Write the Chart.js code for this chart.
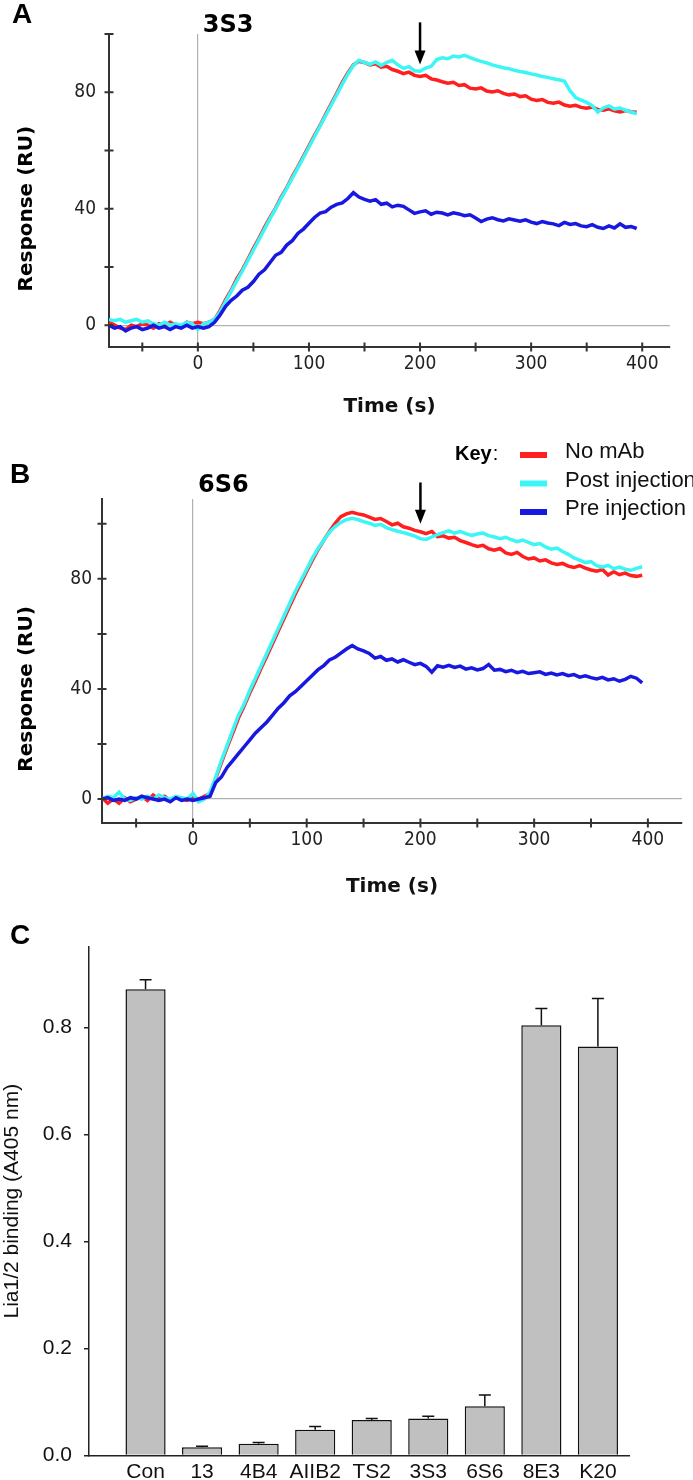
<!DOCTYPE html>
<html>
<head>
<meta charset="utf-8">
<script src="https://cdn.jsdelivr.net/npm/chart.js@4.4.0/dist/chart.umd.min.js"></script>
<style>
  body { margin: 0; background: #fff; }
  #page { position: relative; width: 693px; height: 1480px; }
  canvas { position: absolute; left: 0; }
</style>
</head>
<body>
<div id="page">
  <canvas id="chartA" width="693" height="430" style="top:0"></canvas>
  <canvas id="chartB" width="693" height="480" style="top:430px"></canvas>
  <canvas id="chartC" width="693" height="570" style="top:910px"></canvas>
</div>
<script>
// sensorgram time points (s), shared by panels A and B
const times = [-80, -75, -70, -65, -60, -55, -50, -45, -40, -35, -30, -25, -20, -15, -10, -5, 0, 5, 10, 15,
  20, 25, 30, 35, 40, 45, 50, 55, 60, 65, 70, 75, 80, 85, 90, 95, 100, 105, 110, 115, 120, 125, 130, 135, 140, 145,
  150, 155, 160, 165, 170, 175, 180, 185, 190, 195, 200, 205, 210, 215, 220, 225, 230, 235, 240, 245,
  250, 255, 260, 265, 270, 275, 280, 285, 290, 295, 300, 305, 310, 315, 320, 325, 330, 335, 340, 345,
  350, 355, 360, 365, 370, 375, 380, 385, 390, 395];

// panel A - 3S3
const noMabA = [1, 0, -1, -1.5, 0, -0.5, 0.5, 0, -1, 0.5, 0, 1, 0, -0.5, 1, 0.5, 1, 0.5, 1, 2,
  5, 8.8, 12, 15.9, 19, 22.6, 26.4, 29.8, 33.6, 37, 40.2, 44, 47.2, 51, 54.4, 58, 61.6, 65.2, 68.6, 72.4, 76, 79.6, 83.4, 86.6, 89.4, 90.6,
  90.2, 89.4, 89.8, 88.6, 88.9, 87.8, 87.2, 86.4, 86.9, 85.8, 85.4, 85.8, 84.6, 84.2, 83.6, 83.1, 83.4, 82.3, 82.6, 81.4,
  81.1, 81.5, 80.4, 80.1, 80.5, 79.6, 79.1, 79.4, 78.5, 78.8, 77.6, 77.2, 77.5, 76.5, 76.2, 76.6, 75.6, 75.2, 75.5, 74.8,
  74.5, 74.9, 74.1, 73.8, 74.3, 73.6, 73.2, 73.7, 73.3, 73.1];
const postInjA = [2, 1.5, 2, 1, 1.5, 2, 1, 1.5, 0.5, 0, 1, 0, 0.5, 0, 1, 0.5, -1.5, 0.5, 1, 2,
  4.5, 8.2, 11.6, 15.2, 18.6, 22.2, 25.8, 29.4, 33, 36.6, 40, 43.6, 47, 50.6, 54, 57.6, 61.2, 64.8, 68.4, 72, 75.6, 79.2, 82.8, 86.2, 89.2, 91,
  90.2, 89.6, 90.4, 89.2, 90.3, 90.9, 89.4, 88.2, 88.8, 87.4, 87.2, 88.3, 88.9, 91.2, 91.8, 91.5, 92.4, 92.1, 92.7, 91.9,
  91.2, 90.6, 90.1, 89.4, 88.9, 88.4, 88.1, 87.5, 87.1, 86.8, 86.3, 85.9, 85.4, 85.1, 84.6, 84.3, 83.8, 80.5, 78.2, 77.3,
  76.5, 75.4, 73.2, 74.6, 75.3, 74.2, 74.6, 73.8, 73.2, 72.6];
const preInjA = [0, -1, -0.5, -2, -1, -0.5, -1.5, -1, 0, -1, -0.5, -1.5, -0.5, -1, 0, -1, -0.5, -1, -0.5, 1,
  3.5, 6.5, 8.5, 10, 12, 13, 15, 17.5, 19, 21.5, 24, 25, 27.5, 29, 31.5, 33, 35, 37, 38.5, 39, 40.5, 41.5, 42, 43.5, 45.5, 44,
  43.2, 42.6, 43.1, 41.5, 41.9, 40.6, 41.2, 40.8, 39.6, 38.4, 38.9, 39.3, 38.1, 38.8, 38.5, 37.9, 38.6, 38.2, 37.6, 37.9,
  36.8, 35.6, 36.4, 36.9, 36.2, 35.8, 36.5, 36.1, 35.7, 36.2, 35.4, 34.9, 35.6, 35.1, 34.8, 34.2, 35.3, 34.6, 34.9, 34.1,
  33.8, 34.5, 33.6, 33.2, 34.1, 33.4, 34.8, 33.6, 33.9, 33.2];

// panel B - 6S6
const noMabB = [0.5, -1.5, 0, -1.5, 0.5, -1, 0, 1, -0.5, 1.5, 0, 1, -0.5, 0.5, 0, -0.5, 0.5, 0, 1, 2,
  7.5, 13.2, 18.8, 24, 29.4, 33.8, 38.6, 43, 47.6, 52, 56.5, 61, 65.5, 70, 74.5, 78.6, 82.8, 86.8, 90.6, 94, 97.2, 100.2, 102.6, 103.6, 104.2, 103.6,
  103.2, 102.4, 101.6, 101.9, 100.8, 99.6, 100.2, 98.9, 98.4, 97.6, 97.1, 96.4, 97.2, 95.3, 95.6, 94.8, 95.1, 93.9, 93.2, 92.4,
  91.8, 92.2, 90.9, 90.4, 91.0, 89.4, 88.9, 89.6, 88.1, 87.2, 87.6, 86.5, 86.9, 85.8, 85.2, 85.6, 84.6, 84.1, 84.8, 83.9,
  83.2, 82.8, 83.4, 81.4, 82.6, 81.5, 82.1, 81.2, 80.9, 81.3];
const postInjB = [0, 1, 0.5, 2.5, 0, -0.5, 0.5, 0, 1, 0, 1.5, 0.5, 0, 1, 0.5, 0, 2, -1, 0, 2.5,
  8, 14, 19.5, 25, 30.5, 34.5, 39.5, 44, 48.5, 53, 57.5, 62, 66.5, 71, 75.5, 79.5, 83.5, 87.5, 91, 94, 97, 99, 100.5, 101.5, 102, 101.5,
  100.8, 100.2, 99.4, 99.8, 98.6, 97.9, 97.3, 96.8, 96.2, 95.5, 94.6, 94.3, 95.2, 96.1, 96.8, 97.4, 96.6, 97.2, 96.4, 95.8,
  96.3, 96.6, 95.7, 95.2, 94.6, 95.1, 94.2, 93.5, 94.1, 93.2, 92.4, 92.8, 91.6, 90.8, 91.2, 89.9, 88.9, 87.6, 86.8, 85.9,
  86.3, 84.8, 84.2, 84.9, 83.7, 84.3, 83.5, 83.1, 83.8, 84.4];
const preInjB = [0, 0.5, -0.5, 0, -0.5, 0.5, 0, 1, 0.5, 0, -0.5, 0, -1, 0.5, -0.5, 0, -0.5, 0, 0.5, 1,
  6, 8, 11.5, 14, 16.5, 19, 21.5, 24, 26, 28, 30.5, 33, 35, 37.5, 39, 41, 43, 45, 47, 48.5, 50.5, 51.5, 53, 54.5, 55.8, 54.5,
  53.8, 52.9, 51.2, 51.8, 50.4, 50.9, 49.8, 50.6, 49.7, 48.8, 49.3, 48.2, 46.1, 48.4, 47.9, 48.6, 47.8, 48.3, 47.2, 47.7,
  46.9, 47.4, 48.9, 46.8, 47.1, 46.3, 46.8, 45.9, 46.4, 45.6, 45.9, 46.2, 45.3, 45.8, 45.1, 45.6, 44.8, 45.2, 44.3, 44.8,
  44.1, 43.6, 44.2, 43.3, 43.7, 42.8, 43.5, 44.6, 43.9, 42.2];

// panel C - Lia1/2 binding ELISA
const antibodies = ['Con', '13', '4B4', 'AIIB2', 'TS2', '3S3', '6S6', '8E3', 'K20'];
const binding = [0.871, 0.015, 0.022, 0.048, 0.066, 0.069, 0.092, 0.804, 0.764];
const bindingErr = [0.018, 0.002, 0.002, 0.006, 0.003, 0.004, 0.021, 0.031, 0.09];

const seriesNames = ['No mAb', 'Post injection', 'Pre injection'];
const seriesColors = ['#ff1f1f', '#3cf5f5', '#1818e0'];
const arrowA = {t: 200, from: 104, to: 89.5};
const arrowB = {t: 200, from: 115, to: 100};

const dejavu = '"DejaVu Sans", Verdana, sans-serif';
const dejavuNarrow = '"DejaVu Sans Condensed", "DejaVu Sans", Verdana, sans-serif';
const arial = '"Liberation Sans", Arial, sans-serif';
Chart.defaults.color = '#111';

const panelLetter = {
  id: 'panelLetter',
  afterDraw(chart, args, o) {
    const ctx = chart.ctx;
    ctx.save();
    ctx.fillStyle = '#000';
    ctx.textBaseline = 'middle';
    ctx.font = 'bold 28px ' + arial;
    ctx.fillText(o.text, o.x, o.y);
    ctx.restore();
  }
};

// tick marks that cross the axis line, like the instrument software draws them
const crossTicks = {
  id: 'crossTicks',
  afterDraw(chart) {
    const {ctx, scales: {x, y}} = chart;
    ctx.save();
    ctx.strokeStyle = '#333';
    ctx.lineWidth = 2;
    ctx.beginPath();
    x.ticks.forEach(t => {
      const px = x.getPixelForValue(t.value);
      ctx.moveTo(px, x.top - 4.5);
      ctx.lineTo(px, x.top + 4.5);
    });
    y.ticks.forEach(t => {
      const py = y.getPixelForValue(t.value);
      ctx.moveTo(y.right - 4.5, py);
      ctx.lineTo(y.right + 4.5, py);
    });
    ctx.stroke();
    ctx.restore();
  }
};

const sprDecor = {
  id: 'sprDecor',
  afterDraw(chart, args, o) {
    const {ctx, scales: {x, y}} = chart;
    ctx.save();
    ctx.fillStyle = '#000';
    ctx.textBaseline = 'middle';
    ctx.font = 'bold 24px ' + dejavu;
    ctx.fillText(o.mab, x.getPixelForValue(0) + 5, o.mabY);

    ctx.save();
    ctx.translate(o.titleX, y.getPixelForValue(40));
    ctx.rotate(-Math.PI / 2);
    ctx.textAlign = 'center';
    ctx.font = 'bold 20px ' + dejavu;
    ctx.fillText('Response (RU)', 0, 0);
    ctx.restore();

    // injection arrow
    const ax = x.getPixelForValue(o.arrow.t);
    const ay0 = y.getPixelForValue(o.arrow.from);
    const ay1 = y.getPixelForValue(o.arrow.to);
    ctx.strokeStyle = '#000';
    ctx.lineWidth = 2.5;
    ctx.beginPath();
    ctx.moveTo(ax, ay0);
    ctx.lineTo(ax, ay1 - 10);
    ctx.stroke();
    ctx.beginPath();
    ctx.moveTo(ax - 5.5, ay1 - 14);
    ctx.lineTo(ax + 5.5, ay1 - 14);
    ctx.lineTo(ax, ay1);
    ctx.closePath();
    ctx.fill();
    ctx.restore();
  }
};

const keyLegend = {
  id: 'keyLegend',
  afterDraw(chart, args, o) {
    const ctx = chart.ctx;
    ctx.save();
    ctx.textBaseline = 'middle';
    ctx.fillStyle = '#000';
    ctx.font = 'bold 20px ' + arial;
    ctx.fillText('Key', o.x, o.y);
    const w = ctx.measureText('Key').width;
    ctx.font = '20px ' + arial;
    ctx.fillText(':', o.x + w + 1, o.y);
    ctx.font = '22px ' + arial;
    chart.data.datasets.forEach((ds, i) => {
      const cy = o.y + 1 + i * 28.5;
      ctx.fillStyle = ds.borderColor;
      ctx.fillRect(o.x + 65, cy - 3, 27, 6);
      ctx.fillStyle = '#111';
      ctx.fillText(ds.label, o.x + 110, cy - 3);
    });
    ctx.restore();
  }
};

function sprChart(id, series, o, extraPlugins) {
  return new Chart(document.getElementById(id), {
    type: 'line',
    data: {
      datasets: series.map((vals, i) => ({
        label: seriesNames[i],
        data: vals.map((v, k) => ({x: times[k], y: v})),
        borderColor: seriesColors[i],
        borderWidth: 3.5,
        pointRadius: 0,
        tension: 0,
        order: 2 - i
      }))
    },
    options: {
      responsive: false,
      animation: false,
      layout: {padding: {left: 0, top: o.top, right: o.right, bottom: 0}},
      plugins: {
        legend: {display: false},
        tooltip: {enabled: false},
        panelLetter: o.letter,
        sprDecor: {mab: o.mab, mabY: o.mabY, titleX: 27, arrow: o.arrow},
        keyLegend: {x: 455, y: 24}
      },
      scales: {
        x: {
          type: 'linear', min: -80, max: o.xMax,
          afterFit: s => { s.height = o.xHeight; },
          grid: {drawTicks: false, lineWidth: 1.2, color: c => c.tick && c.tick.value === 0 ? '#b0b0b0' : 'rgba(0,0,0,0)'},
          border: {color: '#333', width: 2},
          ticks: {
            stepSize: 50, includeBounds: false, autoSkip: false, maxRotation: 0, padding: 6,
            color: '#222', font: {family: dejavuNarrow, size: 19},
            callback: v => v % 100 === 0 ? v : ''
          },
          title: {display: true, text: 'Time (s)', color: '#111', font: {family: dejavu, size: 20, weight: 'bold'}, padding: {top: 0, bottom: 11}}
        },
        y: {
          min: o.yMin, max: o.yMax,
          afterFit: s => { s.width = o.yWidth; },
          grid: {drawTicks: false, lineWidth: 1.2, color: c => c.tick && c.tick.value === 0 ? '#b0b0b0' : 'rgba(0,0,0,0)'},
          border: {color: '#333', width: 2},
          ticks: {
            stepSize: 20, includeBounds: false, padding: o.yPad,
            color: '#222', font: {family: dejavuNarrow, size: 19},
            callback: v => v % 40 === 0 ? v : ''
          }
        }
      }
    },
    plugins: [crossTicks, sprDecor, panelLetter].concat(extraPlugins || [])
  });
}

sprChart('chartA', [noMabA, postInjA, preInjA], {
  top: 34, right: 23, xMax: 425, xHeight: 83, yMin: -7.5, yMax: 100, yWidth: 109, yPad: 13,
  mab: '3S3', mabY: 26, arrow: arrowA, letter: {text: 'A', x: 12, y: 15}
});

sprChart('chartB', [noMabB, postInjB, preInjB], {
  top: 69, right: 11, xMax: 430, xHeight: 87, yMin: -8.7, yMax: 109, yWidth: 102, yPad: 10,
  mab: '6S6', mabY: 56, arrow: arrowB, letter: {text: 'B', x: 10, y: 45}
}, [keyLegend]);

const errorBars = {
  id: 'errorBars',
  afterDatasetsDraw(chart) {
    const {ctx, scales: {y}} = chart;
    const meta = chart.getDatasetMeta(0);
    ctx.save();
    ctx.strokeStyle = '#111';
    ctx.lineWidth = 1.5;
    meta.data.forEach((bar, i) => {
      const top = y.getPixelForValue(binding[i] + bindingErr[i]);
      ctx.beginPath();
      ctx.moveTo(bar.x, bar.y);
      ctx.lineTo(bar.x, top);
      ctx.moveTo(bar.x - 6, top);
      ctx.lineTo(bar.x + 6, top);
      ctx.stroke();
    });
    ctx.restore();
  }
};

new Chart(document.getElementById('chartC'), {
  type: 'bar',
  data: {
    datasets: [{
      data: binding.map((v, i) => ({x: i + 1, y: v})),
      backgroundColor: '#c0c0c0',
      borderColor: '#111',
      borderWidth: 1.5,
      barPercentage: 0.71,
      categoryPercentage: 1
    }]
  },
  options: {
    responsive: false,
    animation: false,
    layout: {padding: {left: 0, top: 37, right: 64, bottom: 0}},
    plugins: {
      legend: {display: false},
      tooltip: {enabled: false},
      panelLetter: {text: 'C', x: 10, y: 26}
    },
    scales: {
      x: {
        type: 'linear', min: 0, max: 9.55, offset: false,
        afterFit: s => { s.height = 24; },
        grid: {display: false, drawTicks: false, offset: false},
        border: {color: '#222', width: 1.5},
        ticks: {
          stepSize: 1, includeBounds: false, autoSkip: false, maxRotation: 0, padding: 4,
          color: '#111', font: {family: arial, size: 21},
          callback: v => antibodies[v - 1] || ''
        }
      },
      y: {
        min: 0, max: 0.95,
        afterFit: s => { s.width = 89; },
        grid: {drawOnChartArea: false, tickLength: 5, color: '#222', lineWidth: 1.5},
        border: {color: '#222', width: 1.5},
        ticks: {
          stepSize: 0.2, includeBounds: false, padding: 12,
          color: '#111', font: {family: arial, size: 21},
          callback: v => v.toFixed(1)
        },
        title: {display: true, text: 'Lia1/2 binding (A405 nm)', color: '#111', font: {family: arial, size: 21}, padding: {top: 0, bottom: 0}}
      }
    }
  },
  plugins: [errorBars, panelLetter]
});
</script>
</body>
</html>
